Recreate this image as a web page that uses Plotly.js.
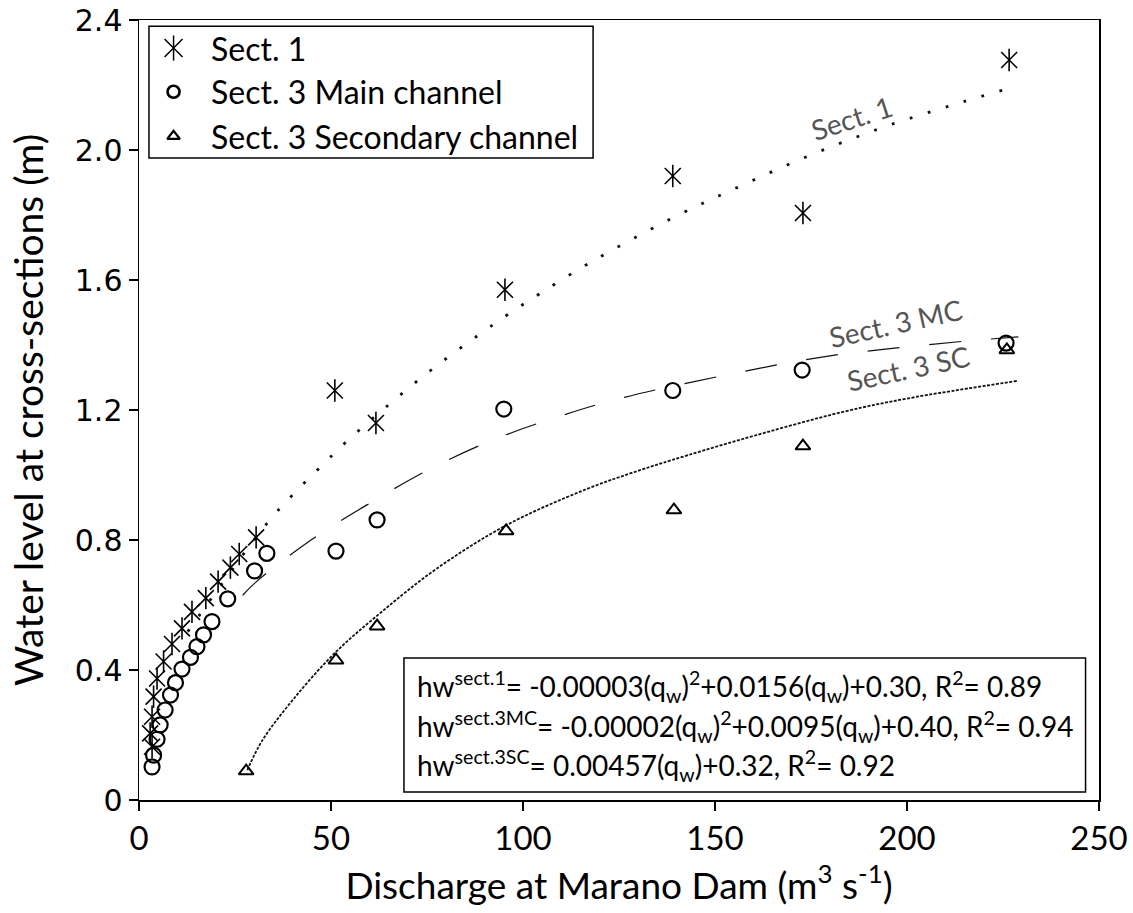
<!DOCTYPE html>
<html>
<head>
<meta charset="utf-8">
<script src="https://cdn.plot.ly/plotly-3.0.1.min.js"></script>
<style>html,body{margin:0;padding:0;background:#fff;}#chart{width:1133px;height:913px;}</style>
</head>
<body>
<div id="chart"></div>
<script>
// ---- observed data (discharge q in m3/s, water level h in m) ----
const sect1_q = [3.4, 2.9, 3.4, 3.8, 4.7, 6.4, 8.6, 11.2, 13.8, 17.4, 20.6, 23.8, 26.1, 30.5, 51.0, 61.7, 95.3, 139.0, 172.9, 226.6];
const sect1_h = [0.164, 0.205, 0.256, 0.318, 0.374, 0.426, 0.48, 0.528, 0.579, 0.621, 0.672, 0.715, 0.757, 0.808, 1.26, 1.16, 1.57, 1.92, 1.806, 2.277];

const mc_q = [3.4, 3.8, 4.7, 5.5, 6.8, 8.2, 9.5, 11.2, 13.4, 15.1, 16.8, 19.0, 23.1, 30.1, 33.3, 51.3, 62.0, 95.0, 139.0, 172.7, 225.8];
const mc_h = [0.102, 0.138, 0.187, 0.231, 0.277, 0.323, 0.361, 0.403, 0.439, 0.472, 0.508, 0.549, 0.619, 0.705, 0.759, 0.766, 0.862, 1.203, 1.26, 1.323, 1.406];

const sc_q = [27.9, 51.3, 62.0, 95.6, 139.3, 172.9, 226.0];
const sc_h = [0.089, 0.43, 0.535, 0.828, 0.892, 1.089, 1.385];

// ---- trend lines ----
const fit1_q = [12.7, 33.1, 39.7, 46.6, 53.7, 64.8, 76.3, 88.1, 96.2, 104.5, 117.1, 138.8, 156.6, 174.4, 193.1, 211.7, 226.0];
const fit1_h = [0.518, 0.848, 0.935, 1.017, 1.099, 1.214, 1.325, 1.428, 1.495, 1.559, 1.651, 1.79, 1.889, 1.982, 2.067, 2.138, 2.188];

const fitMC_q = [27.0, 30.3, 44.8, 60.2, 75.7, 92.2, 109.1, 126.4, 161.5, 179.5, 197.4, 215.3, 229.0];
const fitMC_h = [0.63, 0.669, 0.80, 0.914, 1.018, 1.108, 1.179, 1.239, 1.328, 1.366, 1.391, 1.412, 1.425];

const fitSC_q = [28.2, 32.2, 40.2, 50.8, 62.8, 77.3, 95.6, 116.2, 130.5, 138.8, 157.0, 183.6, 200.4, 229.0];
const fitSC_h = [0.092, 0.185, 0.31, 0.45, 0.575, 0.71, 0.845, 0.955, 1.015, 1.046, 1.11, 1.195, 1.236, 1.29];

// ---- axis ticks ----
const xTicks = [0, 50, 100, 150, 200, 250];
const yTicks = [0, 0.4, 0.8, 1.2, 1.6, 2.0, 2.4];
const yTickText = ['0', '0.4', '0.8', '1.2', '1.6', '2.0', '2.4'];

// ---- legend ----
const legendNames = ['Sect. 1', 'Sect. 3 Main channel', 'Sect. 3 Secondary channel'];
const legendRowY = [0.964, 0.908, 0.851];

// ---- text ----
const equations = [
  'hw<sup>sect.1</sup>= -0.00003(q<sub>w</sub>)<sup>2</sup>+0.0156(q<sub>w</sub>)+0.30, R<sup>2</sup>= 0.89',
  'hw<sup>sect.3MC</sup>= -0.00002(q<sub>w</sub>)<sup>2</sup>+0.0095(q<sub>w</sub>)+0.40, R<sup>2</sup>= 0.94',
  'hw<sup>sect.3SC</sup>= 0.00457(q<sub>w</sub>)+0.32, R<sup>2</sup>= 0.92'
];
const eqRowY = [0.145, 0.094, 0.044];
const curveLabels = ['Sect. 1', 'Sect. 3 MC', 'Sect. 3 SC'];
const curveLabelQ = [185.5, 197.0, 200.5];
const curveLabelH = [2.098, 1.468, 1.33];
const curveLabelAngle = [-18, -12.5, -12];

const FONT = 'Lato, "Open Sans", sans-serif';

const astSize = 16, astLine = 1.6;
const traces = [
  // trend lines
  {x: fit1_q, y: fit1_h, mode: 'lines', line: {color: '#111', width: 2.8, dash: '2.8px,16px', shape: 'spline', smoothing: 1}, showlegend: false, hoverinfo: 'skip'},
  {x: fitMC_q, y: fitMC_h, mode: 'lines', line: {color: '#111', width: 1.2, dash: '32px,30px', shape: 'spline', smoothing: 1}, showlegend: false, hoverinfo: 'skip'},
  {x: fitSC_q, y: fitSC_h, mode: 'lines', line: {color: '#111', width: 1.8, dash: '3px,1.5px', shape: 'spline', smoothing: 1}, showlegend: false, hoverinfo: 'skip'},
  // Sect 1 asterisks (X + vertical bar)
  {x: sect1_q, y: sect1_h, mode: 'markers', marker: {symbol: 'x-thin-open', size: astSize, color: '#000', line: {width: astLine, color: '#000'}}, showlegend: false},
  {x: sect1_q, y: sect1_h, mode: 'markers', marker: {symbol: 'line-ns-open', size: astSize, color: '#000', line: {width: astLine, color: '#000'}}, showlegend: false},
  // Sect 3 MC circles
  {x: mc_q, y: mc_h, mode: 'markers', marker: {symbol: 'circle-open', size: 15, color: '#000', line: {width: 2.2, color: '#000'}}, showlegend: false},
  // Sect 3 SC triangles
  {x: sc_q, y: sc_h, mode: 'markers', marker: {symbol: 'triangle-up-open', size: 13, color: '#000', line: {width: 2, color: '#000'}}, showlegend: false},
  // legend markers (overlay axes 0..1)
  {x: [0.036], y: [legendRowY[0]], xaxis: 'x2', yaxis: 'y2', mode: 'markers', marker: {symbol: 'x-thin-open', size: 18, color: '#000', line: {width: 1.5, color: '#000'}}, showlegend: false, hoverinfo: 'skip'},
  {x: [0.036], y: [legendRowY[0]], xaxis: 'x2', yaxis: 'y2', mode: 'markers', marker: {symbol: 'line-ns-open', size: 18, color: '#000', line: {width: 1.5, color: '#000'}}, showlegend: false, hoverinfo: 'skip'},
  {x: [0.036], y: [legendRowY[1]], xaxis: 'x2', yaxis: 'y2', mode: 'markers', marker: {symbol: 'circle-open', size: 12, color: '#000', line: {width: 2.6, color: '#000'}}, showlegend: false, hoverinfo: 'skip'},
  {x: [0.036], y: [legendRowY[2]], xaxis: 'x2', yaxis: 'y2', mode: 'markers', marker: {symbol: 'triangle-up-open', size: 11, color: '#000', line: {width: 2.2, color: '#000'}}, showlegend: false, hoverinfo: 'skip'}
];

const annotations = [];
legendNames.forEach((t, i) => annotations.push({xref: 'paper', yref: 'paper', x: 0.073, y: legendRowY[i], xanchor: 'left', yanchor: 'middle', text: t, showarrow: false, font: {family: FONT, size: 32, color: '#000'}}));
equations.forEach((t, i) => annotations.push({xref: 'paper', yref: 'paper', x: 0.287, y: eqRowY[i], xanchor: 'left', yanchor: 'middle', text: t, showarrow: false, font: {family: FONT, size: 28, color: '#000'}}));
curveLabels.forEach((t, i) => annotations.push({xref: 'x', yref: 'y', x: curveLabelQ[i], y: curveLabelH[i], text: t, showarrow: false, textangle: curveLabelAngle[i], font: {family: FONT, size: 28, color: '#555'}}));

const layout = {
  width: 1133, height: 913,
  margin: {l: 139, r: 34, t: 20, b: 113},
  paper_bgcolor: '#fff', plot_bgcolor: '#fff',
  showlegend: false,
  xaxis: {
    range: [0, 250], tickvals: xTicks, ticks: 'outside', ticklen: 9, tickwidth: 1.5, tickcolor: '#000',
    showline: true, linecolor: '#000', linewidth: 1.5, mirror: true, showgrid: false, zeroline: false,
    tickfont: {family: FONT, size: 33, color: '#000'},
    title: {text: 'Discharge at Marano Dam (m<sup>3</sup> s<sup>-1</sup>)', font: {family: FONT, size: 37, color: '#000'}, standoff: 10}
  },
  yaxis: {
    range: [0, 2.4], tickvals: yTicks, ticktext: yTickText, ticks: 'outside', ticklen: 9, tickwidth: 1.5, tickcolor: '#000',
    showline: true, linecolor: '#000', linewidth: 1.5, mirror: true, showgrid: false, zeroline: false,
    tickfont: {family: '"DejaVu Sans", sans-serif', size: 30, color: '#000'},
    title: {text: 'Water level at cross-sections (m)', font: {family: FONT, size: 39, color: '#000'}, standoff: 19}
  },
  xaxis2: {overlaying: 'x', range: [0, 1], visible: false, fixedrange: true},
  yaxis2: {overlaying: 'y', range: [0, 1], visible: false, fixedrange: true},
  shapes: [
    {type: 'rect', xref: 'paper', yref: 'paper', x0: 0.0104, x1: 0.473, y0: 0.823, y1: 0.992, line: {color: '#000', width: 1.5}, fillcolor: 'rgba(0,0,0,0)'},
    {type: 'rect', xref: 'paper', yref: 'paper', x0: 0.276, x1: 0.986, y0: 0.0103, y1: 0.182, line: {color: '#000', width: 1.5}, fillcolor: 'rgba(0,0,0,0)'}
  ],
  annotations: annotations
};

Plotly.newPlot('chart', traces, layout, {displayModeBar: false, staticPlot: true});
</script>
</body>
</html>
